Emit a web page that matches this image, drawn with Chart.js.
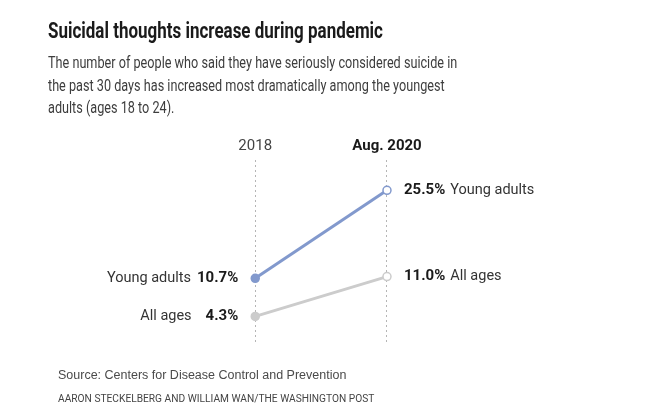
<!DOCTYPE html>
<html>
<head>
<meta charset="utf-8">
<script src="https://cdn.jsdelivr.net/npm/chart.js@4.4.0/dist/chart.umd.min.js"></script>
<style>
  html, body { margin: 0; padding: 0; background: #fff; }
  body { width: 655px; height: 417px; position: relative; overflow: hidden;
         font-family: "Roboto", sans-serif; }
  #chart { position: absolute; left: 0; top: 0; }
  .txt { position: absolute; white-space: nowrap; transform-origin: left top; }
  #title { left: 48px; top: 18px; font-size: 21.5px; font-weight: bold; color: #1a1a1a; transform: scaleX(0.79); }
  #sub { left: 48px; top: 51px; font-size: 17px; line-height: 22.5px; color: #3d3d3d; transform: scaleX(0.745); }
  #source { left: 58px; top: 368px; font-size: 12.5px; color: #4a4a4a; font-family: "Liberation Sans", sans-serif; }
  #credit { left: 58px; top: 393px; font-size: 10px; color: #444; transform: scaleX(1.02); }
</style>
</head>
<body>
<canvas id="chart" width="655" height="417"></canvas>
<div class="txt" id="title">Suicidal thoughts increase during pandemic</div>
<div class="txt" id="sub">The number of people who said they have seriously considered suicide in<br>the past 30 days has increased most dramatically among the youngest<br>adults (ages 18 to 24).</div>
<div class="txt" id="source">Source: Centers for Disease Control and Prevention</div>
<div class="txt" id="credit">AARON STECKELBERG AND WILLIAM WAN/THE WASHINGTON POST</div>
<script>
  // Data
  const periods = ["2018", "Aug. 2020"];
  const youngAdults = [10.7, 25.5];
  const allAges = [4.3, 11.0];
  const seriesNames = ["Young adults", "All ages"];

  const FONT = '"Roboto", sans-serif';

  function toPoints(values) {
    return values.map((v, i) => ({ x: i, y: v }));
  }

  // Draws column headers and end labels
  const labelsPlugin = {
    id: "endLabels",
    afterDatasetsDraw(chart) {
      const ctx = chart.ctx;
      const xs = chart.scales.x;
      const ys = chart.scales.y;
      ctx.save();
      ctx.textBaseline = "middle";

      // column headers
      ctx.textAlign = "center";
      ctx.fillStyle = "#444";
      ctx.font = "15px " + FONT;
      ctx.fillText(periods[0], xs.getPixelForValue(0), 146);
      ctx.fillStyle = "#1a1a1a";
      ctx.font = "bold 15px " + FONT;
      ctx.fillText(periods[1], xs.getPixelForValue(1), 146);

      chart.data.datasets.forEach((ds) => {
        const first = ds.data[0];
        const last = ds.data[ds.data.length - 1];

        // left side: "Name  value%"
        const lx = xs.getPixelForValue(first.x) - 17;
        const ly = ys.getPixelForValue(first.y);
        const lv = first.y.toFixed(1) + "%";
        ctx.textAlign = "right";
        ctx.font = "bold 15px " + FONT;
        ctx.fillStyle = "#1a1a1a";
        ctx.fillText(lv, lx, ly);
        const vw = ctx.measureText(lv).width;
        ctx.font = "14.5px " + FONT;
        ctx.fillStyle = "#333";
        ctx.fillText(ds.label, lx - vw - (ds.label === "All ages" ? 14 : 6), ly);

        // right side: "value%  Name"
        const rx = xs.getPixelForValue(last.x) + 17;
        const ry = ys.getPixelForValue(last.y);
        const rv = last.y.toFixed(1) + "%";
        ctx.textAlign = "left";
        ctx.font = "bold 15px " + FONT;
        ctx.fillStyle = "#1a1a1a";
        ctx.fillText(rv, rx, ry);
        const rw = ctx.measureText(rv).width;
        ctx.font = "14.5px " + FONT;
        ctx.fillStyle = "#333";
        ctx.fillText(ds.label, rx + rw + 5, ry);
      });
      ctx.restore();
    },
  };

  const colors = ["#8299cd", "#cccccc"];
  const seriesValues = [youngAdults, allAges];

  new Chart(document.getElementById("chart"), {
    type: "line",
    data: {
      datasets: seriesValues.map((vals, i) => ({
        label: seriesNames[i],
        data: toPoints(vals),
        borderColor: colors[i],
        borderWidth: 3,
        pointRadius: 4,
        pointBorderWidth: 1.5,
        pointBorderColor: colors[i],
        pointBackgroundColor: vals.map((v, j) => (j === 0 ? colors[i] : "#fff")),
        tension: 0,
      })).reverse(),
    },
    options: {
      responsive: false,
      animation: false,
      events: [],
      layout: { padding: { top: 160, bottom: 75, left: 0, right: 0 } },
      plugins: { legend: { display: false }, tooltip: { enabled: false } },
      scales: {
        x: {
          type: "linear",
          min: -1.8955,
          max: 2.9925,
          afterBuildTicks: (axis) => {
            axis.ticks = periods.map((p, i) => ({ value: i }));
          },
          ticks: { display: false },
          grid: {
            color: "#b5b5b5",
            lineWidth: 1,
            drawTicks: false,
          },
          border: { display: false, dash: [2, 3] },
        },
        y: {
          display: false,
          min: 0,
          max: 30.6,
        },
      },
    },
    plugins: [labelsPlugin],
  });
</script>
</body>
</html>
